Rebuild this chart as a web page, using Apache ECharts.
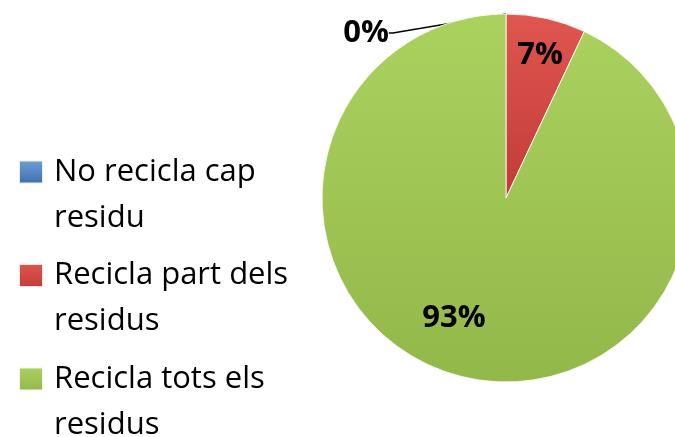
<!DOCTYPE html>
<html>
<head>
<meta charset="utf-8">
<script src="https://cdn.jsdelivr.net/npm/echarts@6/dist/echarts.min.js"></script>
<style>
	html, body { margin: 0; padding: 0; background: #fff; }
	#container { width: 675px; height: 437px; }
</style>
</head>
<body>
<div id="container"></div>
<script>
	// dades
	var categories = ['No recicla cap residu', 'Recicla part dels residus', 'Recicla tots els residus'];
	var legendLines = [['No recicla cap', 'residu'], ['Recicla part dels', 'residus'], ['Recicla tots els', 'residus']];
	var values = [0, 7, 93];
	var colors = [
		['#6f9fd8', '#3d6fae'],
		['#e05651', '#c23b37'],
		['#abd15f', '#93b84a']
	];
	// posicio de les etiquetes
	var labelPos = [[366, 33], [540, 55], [454, 318]];

	var myChart = echarts.init(document.getElementById('container'));

	var data = [];
	for (var i = 0; i < categories.length; i++) {
		var item = {
			name: categories[i],
			value: values[i],
			itemStyle: {
				color: new echarts.graphic.LinearGradient(0, 0, 0, 1, [
					{ offset: 0, color: colors[i][0] },
					{ offset: 1, color: colors[i][1] }
				])
			}
		};
		if (i > 0) {
			item.label = { position: 'inside' };
			item.labelLine = { show: false };
		}
		data.push(item);
	}

	var option = {
		animation: false,
		legend: {
			orient: 'vertical',
			left: 18,
			top: 121,
			height: 600,
			padding: 0,
			itemWidth: 24,
			itemHeight: 23,
			itemGap: -9,
			icon: 'rect',
			formatter: function (name) {
				var l = legendLines[categories.indexOf(name)];
				// linia buida a dalt perque el quadrat quedi a la primera linia
				return '{t| }\n{a|' + l[0] + '}\n{a|' + l[1] + '}';
			},
			textStyle: {
				fontFamily: 'Open Sans',
				fontSize: 31,
				color: '#000',
				rich: {
					t: { lineHeight: 46, fontSize: 10 },
					a: { lineHeight: 46, fontSize: 31, fontFamily: 'Open Sans', color: '#000', padding: [0, 0, 0, 6] }
				}
			},
			data: categories
		},
		series: [
			{
				type: 'pie',
				center: [506, 198],
				radius: 184,
				startAngle: 90,
				itemStyle: {
					borderColor: 'rgba(255,255,255,0.85)',
					borderWidth: 1
				},
				label: {
					show: true,
					overflow: 'none',
					formatter: function (p) {
						return p.value + '%';
					},
					fontFamily: 'Open Sans',
					fontWeight: 'bold',
					fontSize: 31,
					color: '#000'
				},
				labelLine: {
					show: true,
					length: 10,
					length2: 4,
					lineStyle: { color: '#000', width: 1.3 }
				},
				labelLayout: function (params) {
					var p = labelPos[params.dataIndex];
					return { x: p[0], y: p[1], align: 'center', verticalAlign: 'middle' };
				},
				data: data
			}
		]
	};
	myChart.setOption(option);
</script>
</body>
</html>
